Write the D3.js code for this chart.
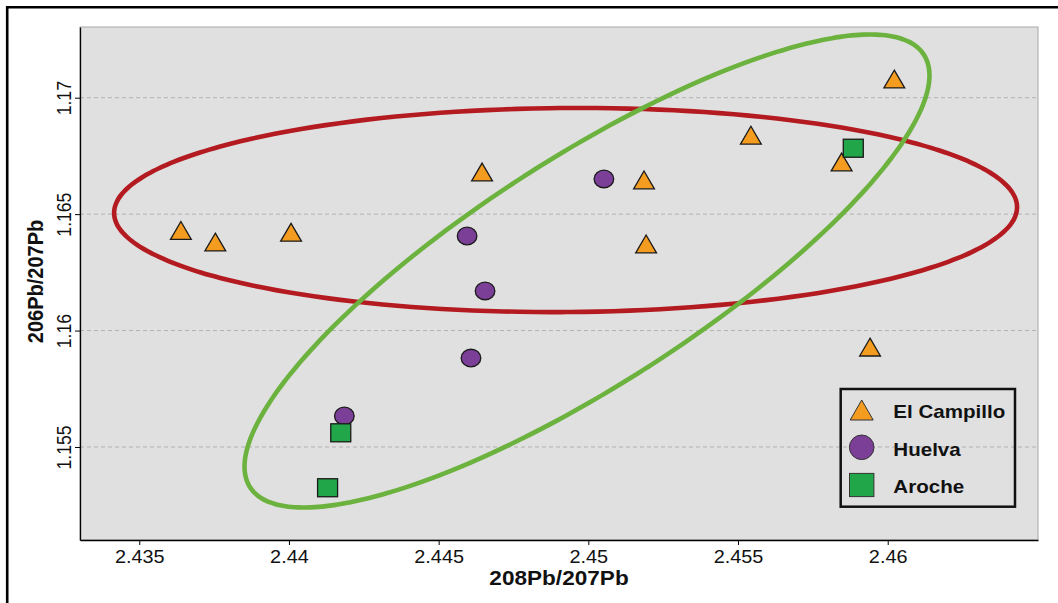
<!DOCTYPE html>
<html>
<head>
<meta charset="utf-8">
<script src="https://cdn.jsdelivr.net/npm/d3@7"></script>
<style>
  body { margin: 0; background: #fff; }
  text { font-family: "Liberation Sans", Arial, sans-serif; }
</style>
</head>
<body>
<svg id="chart" width="1058" height="603"></svg>
<script>
// data
var campilloX = [2.43639, 2.43754, 2.44007, 2.44645, 2.45186, 2.45193, 2.45543, 2.45846, 2.46022, 2.45941];
var campilloY = [1.16430, 1.16380, 1.16422, 1.16681, 1.16647, 1.16372, 1.16839, 1.16724, 1.17080, 1.15929];
var huelvaX = [2.45052, 2.44595, 2.44655, 2.44608, 2.44185];
var huelvaY = [1.16651, 1.16406, 1.16170, 1.15882, 1.15633];
var arocheX = [2.45885, 2.44173, 2.44129];
var arocheY = [1.16783, 1.15561, 1.15325];

var xTicks = [2.435, 2.44, 2.445, 2.45, 2.455, 2.46];
var xTickLabels = ["2.435", "2.44", "2.445", "2.45", "2.455", "2.46"];
var yTicks = [1.155, 1.16, 1.165, 1.17];
var yTickLabels = ["1.155", "1.16", "1.165", "1.17"];

var groups = ["El Campillo", "Huelva", "Aroche"];

// ellipses: centre, semi-axis vectors (data units)
var redEllipse = { cx: 2.44924, cy: 1.165176, ax: 0.01508, ay: 0.000129, bx: 0.0000226, by: -0.004381 };
var greenEllipse = { cx: 2.449955, cy: 1.162558, ax: 0.011254, ay: 0.009288, bx: 0.002051, by: -0.004110 };

var svg = d3.select("#chart");
var pL = 80, pR = 1038, pT = 27, pB = 540;
var stretch = 1.13;

var x = d3.scaleLinear().domain([2.43302, 2.46502]).range([pL, pR]);
var y = d3.scaleLinear().domain([1.151006, 1.173036]).range([pB, pT]);

var colors = { tri: "#f39c20", circ: "#7b3f98", sq: "#22a64a" };

// outer frame
svg.append("path")
  .attr("d", "M7.2,603V7.2H1058")
  .attr("fill", "none")
  .attr("stroke", "#000")
  .attr("stroke-width", 2.6);

// panel
svg.append("rect")
  .attr("x", pL).attr("y", pT)
  .attr("width", pR - pL).attr("height", pB - pT)
  .attr("fill", "#e0e0e0")
  .attr("stroke", "#a8a8a8")
  .attr("stroke-width", 1);

// grid
svg.append("g").selectAll("line")
  .data(yTicks)
  .enter().append("line")
  .attr("x1", pL).attr("x2", pR)
  .attr("y1", function(d) { return y(d); })
  .attr("y2", function(d) { return y(d); })
  .attr("stroke", "#b2b2b2")
  .attr("stroke-dasharray", "4,3")
  .attr("stroke-width", 1);

// points
function triPath(w, h) {
  return "M0," + (-h / 2) + "L" + (w / 2) + "," + (h / 2) + "L" + (-w / 2) + "," + (h / 2) + "Z";
}

svg.append("g").selectAll("path")
  .data(d3.range(campilloX.length))
  .enter().append("path")
  .attr("d", triPath(20.8, 17.8))
  .attr("transform", function(i) { return "translate(" + x(campilloX[i]) + "," + y(campilloY[i]) + ")"; })
  .attr("fill", colors.tri)
  .attr("stroke", "#1a1a1a")
  .attr("stroke-width", 1.3);

svg.append("g").selectAll("ellipse")
  .data(d3.range(huelvaX.length))
  .enter().append("ellipse")
  .attr("cx", function(i) { return x(huelvaX[i]); })
  .attr("cy", function(i) { return y(huelvaY[i]); })
  .attr("rx", 9.8).attr("ry", 8.8)
  .attr("fill", colors.circ)
  .attr("stroke", "#1a1a1a")
  .attr("stroke-width", 1.3);

svg.append("g").selectAll("rect")
  .data(d3.range(arocheX.length))
  .enter().append("rect")
  .attr("x", function(i) { return x(arocheX[i]) - 10; })
  .attr("y", function(i) { return y(arocheY[i]) - 9; })
  .attr("width", 20).attr("height", 18)
  .attr("fill", colors.sq)
  .attr("stroke", "#1a1a1a")
  .attr("stroke-width", 1.3);

// ellipses
function ellipsePoints(e) {
  return d3.range(0, 360, 2).map(function(deg) {
    var t = deg * Math.PI / 180;
    return [e.cx + Math.cos(t) * e.ax + Math.sin(t) * e.bx,
            e.cy + Math.cos(t) * e.ay + Math.sin(t) * e.by];
  });
}
var line = d3.line()
  .x(function(d) { return x(d[0]); })
  .y(function(d) { return y(d[1]); })
  .curve(d3.curveCardinalClosed);

svg.append("path")
  .attr("d", line(ellipsePoints(redEllipse)))
  .attr("fill", "none")
  .attr("stroke", "#b31b21")
  .attr("stroke-width", 4.6);

svg.append("path")
  .attr("d", line(ellipsePoints(greenEllipse)))
  .attr("fill", "none")
  .attr("stroke", "#6cb23e")
  .attr("stroke-width", 4.6);

// axes
var xAxis = svg.append("g")
  .attr("transform", "translate(0," + pB + ")")
  .call(d3.axisBottom(x).tickValues(xTicks).tickSize(5).tickSizeOuter(0)
    .tickFormat(function(d, i) { return xTickLabels[i]; }));
xAxis.selectAll("text")
  .attr("y", null).attr("dy", null)
  .attr("transform", "translate(0,22.7) scale(" + stretch + ",1)")
  .attr("font-size", 17.6)
  .attr("font-family", "Liberation Sans, Arial, sans-serif")
  .attr("fill", "#111");

var yAxis = svg.append("g")
  .attr("transform", "translate(" + pL + ",0)")
  .call(d3.axisLeft(y).tickValues(yTicks).tickSize(5).tickSizeOuter(0)
    .tickFormat(function(d, i) { return yTickLabels[i]; }));
yAxis.selectAll("text")
  .attr("x", null).attr("dy", null)
  .attr("text-anchor", "middle")
  .attr("transform", "translate(-9.3,0) rotate(-90) scale(1," + stretch + ")")
  .attr("font-size", 17.6)
  .attr("font-family", "Liberation Sans, Arial, sans-serif")
  .attr("fill", "#111");

svg.selectAll(".domain").attr("stroke", "#000").attr("stroke-width", 1.3);
svg.selectAll(".tick line").attr("stroke", "#000");

// axis titles
svg.append("text")
  .attr("transform", "translate(" + ((pL + pR) / 2) + ",585) scale(" + stretch + ",1)")
  .attr("text-anchor", "middle")
  .attr("font-weight", "bold")
  .attr("font-size", 20)
  .attr("fill", "#111")
  .text("208Pb/207Pb");

svg.append("text")
  .attr("transform", "translate(43.3," + ((pT + pB) / 2 - 2) + ") rotate(-90) scale(1," + stretch + ")")
  .attr("text-anchor", "middle")
  .attr("font-weight", "bold")
  .attr("font-size", 20)
  .attr("fill", "#111")
  .text("206Pb/207Pb");

// legend
var legend = svg.append("g");
legend.append("rect")
  .attr("x", 840.7).attr("y", 389)
  .attr("width", 174.3).attr("height", 117.7)
  .attr("fill", "none")
  .attr("stroke", "#111")
  .attr("stroke-width", 2.5);

var legY = [410, 447.3, 485];
legend.append("path")
  .attr("d", triPath(23, 20))
  .attr("transform", "translate(861.7," + legY[0] + ")")
  .attr("fill", colors.tri).attr("stroke", "#333").attr("stroke-width", 1);
legend.append("ellipse")
  .attr("cx", 861.7).attr("cy", legY[1]).attr("rx", 12.3).attr("ry", 12.3)
  .attr("fill", colors.circ).attr("stroke", "#333").attr("stroke-width", 1);
legend.append("rect")
  .attr("x", 861.7 - 12.2).attr("y", legY[2] - 11.6).attr("width", 24.4).attr("height", 23.2)
  .attr("fill", colors.sq).attr("stroke", "#333").attr("stroke-width", 1);

legend.selectAll("text.lab")
  .data(groups)
  .enter().append("text")
  .attr("class", "lab")
  .attr("transform", function(d, i) { return "translate(893.3," + (legY[i] + 8.4) + ") scale(" + stretch + ",1)"; })
  .attr("font-weight", "bold")
  .attr("font-size", 18.2)
  .attr("fill", "#111")
  .text(function(d) { return d; });
</script>
</body>
</html>
